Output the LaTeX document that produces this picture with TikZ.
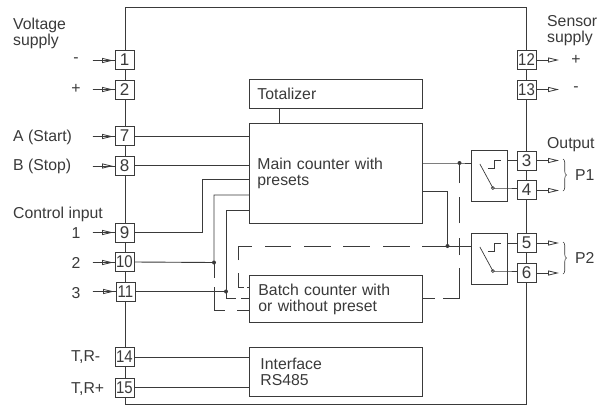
\documentclass[tikz,border=0pt]{standalone}
\usepackage{fontspec}
\usepackage{graphicx}
\setmainfont{Liberation Sans}
\usetikzlibrary{arrows.meta,decorations.pathreplacing}
\definecolor{ink}{HTML}{3A3A3A}
\newcommand{\twodig}[1]{\scalebox{0.88}[1]{#1}}
\tikzset{
  x=1pt,y=-1pt,
  wire/.style={draw=ink,line width=0.9pt},
  term/.style={draw=ink,fill=white,line width=0.9pt,minimum width=19pt,minimum height=19pt,inner sep=0pt,text=ink,font=\fontsize{17}{17}\selectfont},
  blockbox/.style={draw=ink,line width=0.9pt,fill=white,align=left,inner xsep=8pt,inner ysep=0pt,text=ink,font=\fontsize{15.8}{16}\selectfont},
  lbl/.style={inner sep=0pt,anchor=base west,text=ink,font=\fontsize{15.8}{16}\selectfont},
  lbltwo/.style={inner sep=0pt,anchor=west,align=left,text=ink,font=\fontsize{15.8}{16}\selectfont},
  lblc/.style={inner sep=0pt,text=ink,font=\fontsize{15.8}{16}\selectfont},
  tip/.style={draw=ink,line width=0.8pt,-{Triangle[open,length=11pt,width=5pt]}},
  dotm/.style={circle,fill=ink,inner sep=0pt,minimum size=4pt},
  relay/.style={draw=ink,fill=white,line width=0.9pt,minimum width=36pt,minimum height=51pt,inner sep=0pt},
}
\newcommand{\relaysym}[1]{%
  \draw[wire,line width=0.7pt] ([shift={(-20,18)}]#1.north east) -- ++(6,0) -- ++(0,-8) -- ++(7,0);
  \draw[wire,line width=0.7pt] ([shift={(-28,14)}]#1.north east) -- ([shift={(-15,38)}]#1.north east);
  \draw[wire,line width=0.7pt] ([shift={(-15,38)}]#1.north east) circle (1.5pt);
}
\begin{document}
\begin{tikzpicture}
\useasboundingbox (0,0) rectangle (603,405);
\fill[white] (0,0) rectangle (603,405);
% outer housing
\node[draw=ink,line width=0.9pt,minimum width=401pt,minimum height=397pt,inner sep=0pt] (housing) at (325.5,205.5) {};
% blocks
\node[blockbox,anchor=north west,minimum height=29pt,text width=157pt] (total) at (249,79) {Totalizer};
\node[blockbox,anchor=north west,minimum height=100pt,text width=157pt] (main) at (249,123) {Main counter with\\presets};
\node[blockbox,anchor=north west,minimum height=47pt,text width=155pt,inner xsep=9pt] (batch) at (249,275) {Batch counter with\\or without preset};
\node[blockbox,anchor=north west,minimum height=49pt,text width=151pt,inner xsep=11pt] (iface) at (249,347) {Interface\\RS485};
\node[relay,anchor=north west] (r1) at (471,150) {};
\node[relay,anchor=north west] (r2) at (471,233) {};
% left terminals
\node[term] (t1) at (124.5,60) {1};
\node[term] (t2) at (124.5,89.5) {2};
\node[term] (t7) at (124.5,136) {7};
\node[term] (t8) at (124.5,165.5) {8};
\node[term] (t9) at (124.5,232.5) {9};
\node[term] (t10) at (124.5,262) {\twodig{10}};
\node[term] (t11) at (125.5,291.5) {\twodig{11}};
\node[term] (t14) at (124.5,357) {\twodig{14}};
\node[term] (t15) at (124.5,387.5) {\twodig{15}};
% right terminals
\node[term] (t12) at (526.5,59.5) {\twodig{12}};
\node[term] (t13) at (526.5,89.5) {\twodig{13}};
\node[term] (t3) at (526.5,160.5) {3};
\node[term] (t4) at (526.5,190) {4};
\node[term] (t5) at (526.5,243) {5};
\node[term] (t6) at (526.5,273) {6};
% junctions
\node[dotm] (j10) at (214,262.5) {};
\node[dotm] (j11) at (226,291.5) {};
\node[dotm] (jr1) at (459.5,163) {};
\node[dotm] (jr2) at (447.5,246) {};
% free ends
\foreach \n/\y in {1/60.5,2/89.5,7/136.5,8/166,9/232.5,10/262.5,11/291.5}{
  \coordinate (in\n) at (92.5,\y);
  \draw[wire,line width=0.7pt] (in\n) -- (in\n -| t\n.west);
  \draw[tip] (in\n) -- ([xshift=-1.5pt]in\n -| t\n.west);
}
\foreach \n/\y in {12/60,13/89.5,3/160.5,4/190.5,5/243,6/273}{
  \coordinate (out\n) at (559,\y);
  \draw[tip] (out\n -| t\n.east) -- (out\n);
}
% solid connectors
\draw[wire] (279,108) -- (279,123);
\draw[wire] (t7.east) -- (t7.east -| main.west);
\draw[wire] (t8.east) -- (t8.east -| main.west);
\coordinate (m9) at (249,179);
\coordinate (m10) at (249,195);
\coordinate (m11) at (249,210);
\draw[wire] (t9.east) -- (202.5,232.5) -- (202.5,179) -- (m9);
\draw[wire] (t10.east) -- (j10.center) -- (214,195) -- (m10);
\draw[wire] (t11.east) -- (j11.center) -- (226,210) -- (m11);
\draw[wire] (t14.east) -- (t14.east -| iface.west);
\draw[wire] (t15.east) -- (t15.east -| iface.west);
\draw[wire] (422,163) -- (jr1.center) -- (471,163);
\draw[wire] (422,191) -- (447.5,191) -- (jr2.center);
\draw[wire] (422,246) -- (471,246);
% relay to terminals
\draw[wire] (507,160.5) -- (t3.west);
\draw[wire] (494,188) -- (507,188) -- (t4.west |- 0,188);
\draw[wire] (507,243) -- (t5.west);
\draw[wire] (494,271) -- (507,271) -- (t6.west |- 0,271);
% dashed connectors, drawn with their gaps
\draw[wire] (238,260) -- (238,246) -- (252,246) (265,246) -- (291,246) (304,246) -- (331,246) (343,246) -- (370,246) (383,246) -- (410,246)
  (238,273) -- (238,287) -- (244,287) (247,287) -- (249,287);
\draw[wire] (214,262.5) -- (214,278) (214,287) -- (214,310.7) -- (225,310.7) (237,310.7) -- (249,310.7);
\draw[wire] (226,291.5) -- (226,298) -- (236,298) (241,298) -- (249,298);
\draw[wire] (422,298) -- (435,298) (443,298) -- (459.5,298) -- (459.5,268) (459.5,255) -- (459.5,238) (459.5,223) -- (459.5,197) (459.5,183) -- (jr1.center);
% relay symbols
\relaysym{r1}
\relaysym{r2}
% braces
\draw[draw=ink,line width=0.6pt,decorate,decoration={brace,amplitude=3.5pt}] (563,159) -- (563,191);
\draw[draw=ink,line width=0.6pt,decorate,decoration={brace,amplitude=3.5pt}] (563,242) -- (563,274);
% labels
\node[lbltwo] (lv) at (13,33) {Voltage\\supply};
\node[lblc] (lm) at (76,60) {-};
\node[lblc] (lp) at (76,89) {+};
\node[lbl] (la) at (13,141) {A (Start)};
\node[lbl] (lb) at (13,170) {B (Stop)};
\node[lbl] (lc) at (13,218) {Control input};
\node[lblc] (c1) at (76,233.5) {1};
\node[lblc] (c2) at (76,263) {2};
\node[lblc] (c3) at (76,293) {3};
\node[lbl] (ltm) at (71,361) {T,R-};
\node[lbl] (ltp) at (71,393) {T,R+};
\node[lbltwo] (ls) at (547,31) {Sensor\\supply};
\node[lblc] (lsp) at (576,60) {+};
\node[lblc] (lsm) at (576,89) {-};
\node[lbl] (lo) at (547,148) {Output};
\node[lbl] (lp1) at (575,180) {P1};
\node[lbl] (lp2) at (575,263) {P2};
\end{tikzpicture}
\end{document}
